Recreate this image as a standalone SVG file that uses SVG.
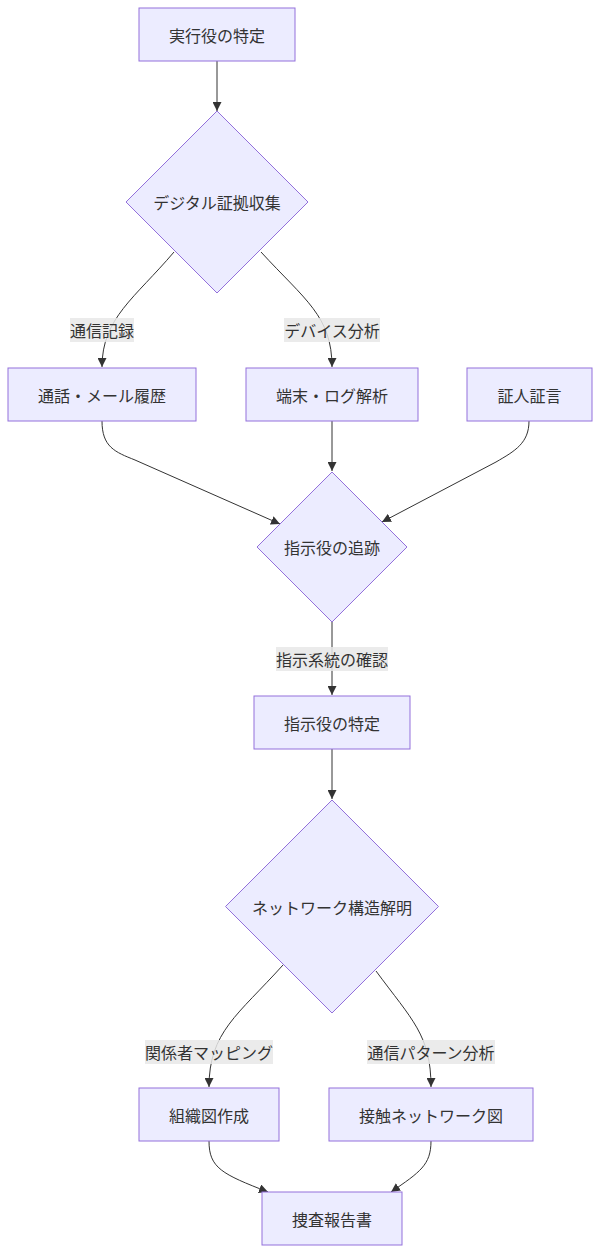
<svg xmlns="http://www.w3.org/2000/svg" width="600" height="1254" viewBox="0 0 600 1254">
<style>
.node rect,.node polygon{fill:#ECECFF;stroke:#9370DB;stroke-width:1}
.node text,.lbl text{font-family:"Noto Sans CJK JP","Noto Sans",sans-serif;font-size:16px;fill:#333;text-anchor:middle;dominant-baseline:central}
.edges path{fill:none;stroke:#333;stroke-width:1}
.lbl rect{fill:#e8e8e8;opacity:0.85}
</style>
<defs>
<marker id="arr" viewBox="0 0 10 10" refX="10" refY="5" markerWidth="9" markerHeight="9" markerUnits="userSpaceOnUse" orient="auto">
<path d="M0,0 L10,5 L0,10 z" fill="#333"/>
</marker>
</defs>
<rect width="600" height="1254" fill="#fff"/>
<g class="edges">
<path d="M217,61 L217,111" marker-end="url(#arr)"/>
<path d="M174,252 C135,298 102,318 102,367" marker-end="url(#arr)"/>
<path d="M261,252 C305,300 332,316 332,367" marker-end="url(#arr)"/>
<path d="M102,421 C102,447 115,452 135,460 L280,524" marker-end="url(#arr)"/>
<path d="M332,421 L332,471" marker-end="url(#arr)"/>
<path d="M529,421 C529,443 515,451 496,462 L382,522" marker-end="url(#arr)"/>
<path d="M332,622 L332,695" marker-end="url(#arr)"/>
<path d="M332,749 L332,799" marker-end="url(#arr)"/>
<path d="M283,965 C238,1015 209,1032 209,1087" marker-end="url(#arr)"/>
<path d="M376,971 C412,1020 431,1035 431,1087" marker-end="url(#arr)"/>
<path d="M209,1141 C209,1168 222,1174 268,1192" marker-end="url(#arr)"/>
<path d="M431,1141 C431,1165 420,1172 391,1192" marker-end="url(#arr)"/>
</g>
<g class="lbl" id="l1"><rect x="70" y="318" width="64" height="24"/><text x="102" y="330">通信記録</text></g>
<g class="lbl" id="l2"><rect x="284" y="318" width="96" height="24"/><text x="332" y="330">デバイス分析</text></g>
<g class="lbl" id="l3"><rect x="276" y="647" width="112" height="24"/><text x="332" y="659">指示系統の確認</text></g>
<g class="lbl" id="l4"><rect x="145" y="1040" width="128" height="24"/><text x="209" y="1052">関係者マッピング</text></g>
<g class="lbl" id="l5"><rect x="367" y="1040" width="128" height="24"/><text x="431" y="1052">通信パターン分析</text></g>
<g class="node" id="n1"><rect x="139" y="8" width="156" height="53"/><text x="217" y="34.5">実行役の特定</text></g>
<g class="node" id="n2"><polygon points="217,111 308,202 217,293 126,202"/><text x="217" y="202">デジタル証拠収集</text></g>
<g class="node" id="n3"><rect x="8" y="368" width="188" height="53"/><text x="102" y="394.5">通話・メール履歴</text></g>
<g class="node" id="n4"><rect x="246" y="368" width="172" height="53"/><text x="332" y="394.5">端末・ログ解析</text></g>
<g class="node" id="n5"><rect x="467" y="368" width="125" height="53"/><text x="529.5" y="394.5">証人証言</text></g>
<g class="node" id="n6"><polygon points="332,472 407,547 332,622 257,547"/><text x="332" y="547">指示役の追跡</text></g>
<g class="node" id="n7"><rect x="254" y="696" width="156" height="53"/><text x="332" y="722.5">指示役の特定</text></g>
<g class="node" id="n8"><polygon points="332,800 438.5,906.5 332,1013 225.5,906.5"/><text x="332" y="906.5">ネットワーク構造解明</text></g>
<g class="node" id="n9"><rect x="139" y="1088" width="140" height="53"/><text x="209" y="1114.5">組織図作成</text></g>
<g class="node" id="n10"><rect x="329" y="1088" width="204" height="53"/><text x="431" y="1114.5">接触ネットワーク図</text></g>
<g class="node" id="n11"><rect x="262" y="1192" width="140" height="53"/><text x="332" y="1218.5">捜査報告書</text></g>
</svg>
